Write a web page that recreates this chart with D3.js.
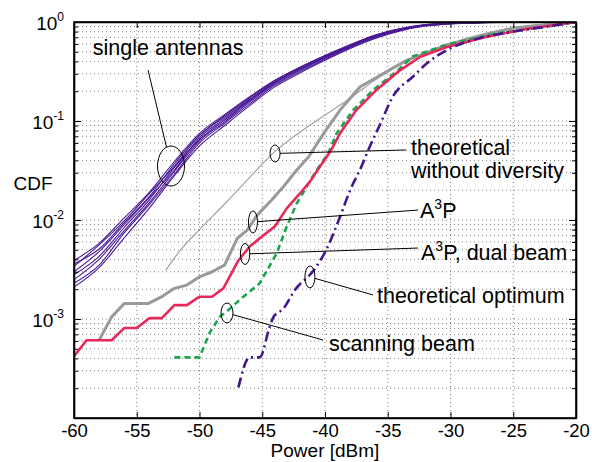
<!DOCTYPE html>
<html>
<head>
<meta charset="utf-8">
<script src="https://cdn.jsdelivr.net/npm/d3@7"></script>
<style>
  body { margin: 0; background: #fff; }
  svg { font-family: "Liberation Sans", Arial, sans-serif; }
  .grid line { stroke: #808080; stroke-width: 1; stroke-dasharray: 1,3; }
  .axis path, .axis line { stroke: #000; }
  .axis path { stroke-width: 1.6; }
  .annot { fill: none; stroke: #000; stroke-width: 1; }
  .label { font-size: 21.5px; fill: #000; }
</style>
</head>
<body>
<div id="wrapper"></div>
<script>
// ---- data --------------------------------------------------------------
const xTickValues = [-60, -55, -50, -45, -40, -35, -30, -25, -20]
const yMajorValues = [1, 0.1, 0.01, 0.001]
const yMajorExponents = ["0", "-1", "-2", "-3"]

// eight measured single antenna CDFs
const singlePower = [-60, -58, -56, -54, -52, -50, -48, -46, -44, -42, -40, -38, -36, -34, -32, -30, -27, -24, -20]
const singleCdf = [
  [3.9e-3, 5.8e-3, 0.0105, 0.019, 0.039, 0.075, 0.116, 0.176, 0.258, 0.35, 0.46, 0.59, 0.74, 0.86, 0.94, 0.975, 0.993, 1, 1],
  [3.4e-3, 5.6e-3, 0.0098, 0.0185, 0.035, 0.071, 0.113, 0.172, 0.255, 0.347, 0.455, 0.585, 0.735, 0.855, 0.935, 0.972, 0.992, 1, 1],
  [3.6e-3, 5.1e-3, 0.0094, 0.0172, 0.037, 0.072, 0.109, 0.167, 0.249, 0.34, 0.447, 0.578, 0.725, 0.848, 0.932, 0.97, 0.991, 1, 1],
  [3.0e-3, 4.8e-3, 0.0090, 0.0168, 0.032, 0.068, 0.105, 0.163, 0.245, 0.336, 0.442, 0.572, 0.718, 0.843, 0.93, 0.97, 0.99, 1, 1],
  [2.8e-3, 4.3e-3, 0.0084, 0.0160, 0.034, 0.065, 0.102, 0.16, 0.242, 0.333, 0.438, 0.567, 0.712, 0.838, 0.927, 0.968, 0.99, 1, 1],
  [2.5e-3, 4.0e-3, 0.0078, 0.0150, 0.031, 0.063, 0.098, 0.155, 0.236, 0.326, 0.431, 0.561, 0.705, 0.832, 0.922, 0.965, 0.989, 1, 1],
  [2.3e-3, 3.5e-3, 0.0074, 0.0143, 0.029, 0.060, 0.095, 0.149, 0.229, 0.316, 0.421, 0.551, 0.693, 0.822, 0.916, 0.961, 0.987, 1, 1],
  [2.1e-3, 3.3e-3, 0.0066, 0.0132, 0.028, 0.056, 0.090, 0.143, 0.221, 0.306, 0.41, 0.54, 0.682, 0.812, 0.91, 0.956, 0.985, 1, 1],
]

const theoNoDivPower = [-52.7, -51.5, -50, -48, -46, -44, -42, -40, -38, -36, -34, -32, -30, -27, -24, -20]
const theoNoDivCdf = [3.1e-3, 5.0e-3, 8.0e-3, 0.0145, 0.027, 0.049, 0.077, 0.115, 0.17, 0.26, 0.37, 0.49, 0.61, 0.78, 0.91, 1.0]

const a3pPower = [-58, -57, -56, -54.1, -53, -52, -51, -50, -49, -48, -47, -46.2, -45.4, -44.25, -43.3, -42.25, -41.3, -40.1, -38.8, -37.2, -35.6, -33.5, -30.3, -25, -20]
const a3pCdf = [6.1e-4, 1.05e-3, 1.43e-3, 1.43e-3, 1.68e-3, 2.04e-3, 2.2e-3, 2.67e-3, 3.0e-3, 3.5e-3, 6.5e-3, 7.9e-3, 0.0112, 0.0159, 0.0218, 0.032, 0.0436, 0.075, 0.129, 0.222, 0.29, 0.41, 0.586, 0.87, 1.0]

const dualPower = [-60, -59, -57, -56, -55, -54, -53, -52, -51, -50, -49, -48.1, -46.9, -46, -44.9, -44, -43.05, -42.1, -41.2, -40.4, -39.5, -38.8, -37.5, -35.9, -34, -32.4, -30.3, -27.1, -23.7, -20]
const dualCdf = [4.2e-4, 6.1e-4, 6.1e-4, 8.1e-4, 8.1e-4, 1.02e-3, 1.02e-3, 1.38e-3, 1.38e-3, 1.68e-3, 1.68e-3, 2.04e-3, 3.9e-3, 5.4e-3, 7.0e-3, 8.6e-3, 0.0131, 0.0179, 0.0244, 0.0346, 0.051, 0.075, 0.129, 0.206, 0.327, 0.446, 0.56, 0.71, 0.86, 1.0]

const scanPower = [-52, -50, -49.2, -48.4, -47.7, -46.8, -45.2, -43.85, -43.05, -42.25, -41.46, -40.66, -39.74, -39.07, -37.75, -36.15, -34.16, -33, -30.3, -26.3, -22.3, -20]
const scanCdf = [4.1e-4, 4.1e-4, 7.2e-4, 1.05e-3, 1.23e-3, 1.56e-3, 2.3e-3, 4.6e-3, 8.6e-3, 0.0147, 0.0217, 0.032, 0.047, 0.075, 0.129, 0.206, 0.327, 0.45, 0.59, 0.77, 0.90, 1.0]

const optPower = [-46.9, -46.0, -45.2, -44.4, -44.1, -43.3, -42.4, -40.9, -39.9, -38.8, -38.0, -37.1, -36.55, -35.6, -34.6, -33.0, -31.9, -30.3, -28.2, -25.0, -22.3, -20.0]
const optCdf = [2.04e-4, 4.1e-4, 4.1e-4, 8.4e-4, 1.05e-3, 1.28e-3, 1.96e-3, 3.1e-3, 5.0e-3, 0.0108, 0.020, 0.0346, 0.051, 0.093, 0.176, 0.28, 0.38, 0.52, 0.66, 0.80, 0.90, 1.0]

// annotations: ellipse centre, leader end, text anchor (all in data units)
const annotations = [
  { cx: -52.27, cy: 0.0351, rx: 13.5, ry: 20, tx: -54.1, ty: 0.327, lx: -58.5, ly: 0.464, lines: ["single antennas"] },
  { cx: -43.98, cy: 0.047, rx: 5, ry: 8.5, tx: -33.55, ty: 0.051, lx: -33.15, ly: 0.0455, lines: ["theoretical", "without diversity"] },
  { cx: -45.74, cy: 9.55e-3, rx: 4.5, ry: 11, tx: -32.59, ty: 0.0126, lx: -32.43, ly: 0.0105, lines: ["A³P"] },
  { cx: -46.37, cy: 4.54e-3, rx: 4.7, ry: 10.5, tx: -32.59, ty: 5.21e-3, lx: -32.35, ly: 3.94e-3, lines: ["A³P, dual beam"] },
  { cx: -41.2, cy: 2.66e-3, rx: 5, ry: 11, tx: -36.18, ty: 1.75e-3, lx: -35.86, ly: 1.45e-3, lines: ["theoretical optimum"] },
  { cx: -47.81, cy: 1.15e-3, rx: 6, ry: 10, tx: -40.16, ty: 6.14e-4, lx: -39.68, ly: 4.75e-4, lines: ["scanning beam"] },
]

function drawChart() {

  //..................................................
  // dimensions
  let dimensions = {
    width: 592,
    height: 462,
    margin: { top: 22, right: 16, bottom: 44, left: 74 },
  }
  dimensions.boundedWidth = dimensions.width - dimensions.margin.left - dimensions.margin.right
  dimensions.boundedHeight = dimensions.height - dimensions.margin.top - dimensions.margin.bottom

  //..................................................
  // canvas
  const wrapper = d3.select("#wrapper")
    .append("svg")
      .attr("width", dimensions.width)
      .attr("height", dimensions.height)

  const bounds = wrapper.append("g")
    .attr("transform", `translate(${dimensions.margin.left},${dimensions.margin.top})`)

  bounds.append("clipPath")
      .attr("id", "plot-clip")
    .append("rect")
      .attr("width", dimensions.boundedWidth)
      .attr("height", dimensions.boundedHeight)

  //..................................................
  // scales
  const xScale = d3.scaleLinear()
    .domain([-60, -20])
    .range([0, dimensions.boundedWidth])

  const yScale = d3.scaleLog()
    .domain([1e-4, 1])
    .range([dimensions.boundedHeight, 0])

  const yAllTicks = yScale.ticks()
  const yMinorTicks = yAllTicks.filter(d => !yMajorValues.includes(d) && d > 1e-4)

  //..................................................
  // grid
  const grid = bounds.append("g").attr("class", "grid")
  grid.selectAll(".gx")
    .data(xTickValues.slice(1, -1))
    .join("line")
      .attr("x1", d => xScale(d))
      .attr("x2", d => xScale(d))
      .attr("y1", 0)
      .attr("y2", dimensions.boundedHeight)
  grid.selectAll(".gy")
    .data(yAllTicks.filter(d => d > 1e-4 && d < 1))
    .join("line")
      .attr("x1", 0)
      .attr("x2", dimensions.boundedWidth)
      .attr("y1", d => yScale(d))
      .attr("y2", d => yScale(d))

  //..................................................
  // draw data
  const lineFor = (curve) => d3.line()
    .x(d => xScale(d[0]))
    .y(d => yScale(d[1]))
    .curve(curve)

  const zip = (xs, ys) => xs.map((x, i) => [x, ys[i]])
  const plot = bounds.append("g").attr("clip-path", "url(#plot-clip)")

  plot.selectAll(".single")
    .data(singleCdf)
    .join("path")
      .attr("class", "single")
      .attr("fill", "none")
      .attr("stroke", "#4a1a96")
      .attr("stroke-width", 1.1)
      .attr("d", d => lineFor(d3.curveMonotoneX)(zip(singlePower, d)))

  plot.append("path")
      .attr("fill", "none")
      .attr("stroke", "#a3a3a3")
      .attr("stroke-width", 1.2)
      .attr("d", lineFor(d3.curveMonotoneX)(zip(theoNoDivPower, theoNoDivCdf)))

  plot.append("path")
      .attr("fill", "none")
      .attr("stroke", "#9a9a9a")
      .attr("stroke-width", 3)
      .attr("stroke-linejoin", "round")
      .attr("d", lineFor(d3.curveLinear)(zip(a3pPower, a3pCdf)))

  plot.append("path")
      .attr("fill", "none")
      .attr("stroke", "#17a64a")
      .attr("stroke-width", 2.6)
      .attr("stroke-dasharray", "6,4")
      .attr("d", lineFor(d3.curveLinear)(zip(scanPower, scanCdf)))

  plot.append("path")
      .attr("fill", "none")
      .attr("stroke", "#e8285a")
      .attr("stroke-width", 2.6)
      .attr("stroke-linejoin", "round")
      .attr("d", lineFor(d3.curveLinear)(zip(dualPower, dualCdf)))

  plot.append("path")
      .attr("fill", "none")
      .attr("stroke", "#45178f")
      .attr("stroke-width", 2.6)
      .attr("stroke-dasharray", "10,4,2,4")
      .attr("d", lineFor(d3.curveMonotoneX)(zip(optPower, optCdf)))

  //..................................................
  // peripherals
  const xAxis = bounds.append("g")
      .attr("class", "axis")
      .attr("transform", `translate(0,${dimensions.boundedHeight})`)
    .call(d3.axisBottom(xScale).tickValues(xTickValues).tickSizeInner(-6).tickSizeOuter(0).tickPadding(6).tickFormat(d => String(d)))
  xAxis.selectAll("text").attr("font-size", 18.5).attr("fill", "#000")

  bounds.append("g")
      .attr("class", "axis")
    .call(d3.axisTop(xScale).tickValues(xTickValues).tickSizeInner(-6).tickSizeOuter(0).tickFormat(""))

  const yAxis = bounds.append("g")
      .attr("class", "axis")
    .call(d3.axisLeft(yScale).tickValues(yMajorValues).tickSizeInner(-7).tickSizeOuter(0).tickFormat(""))
  bounds.append("g")
      .attr("class", "axis")
    .call(d3.axisLeft(yScale).tickValues(yMinorTicks).tickSizeInner(-4).tickSizeOuter(0).tickFormat(""))
    .select(".domain").remove()

  bounds.append("g")
      .attr("class", "axis")
      .attr("transform", `translate(${dimensions.boundedWidth},0)`)
    .call(d3.axisRight(yScale).tickValues(yMajorValues).tickSizeInner(-7).tickSizeOuter(0).tickFormat(""))
  bounds.append("g")
      .attr("class", "axis")
      .attr("transform", `translate(${dimensions.boundedWidth},0)`)
    .call(d3.axisRight(yScale).tickValues(yMinorTicks).tickSizeInner(-4).tickSizeOuter(0).tickFormat(""))
    .select(".domain").remove()

  const yLabels = yAxis.selectAll(".ylab")
    .data(yMajorValues)
    .join("text")
      .attr("class", "ylab")
      .attr("x", -10)
      .attr("y", d => yScale(d) + 7.5)
      .attr("text-anchor", "end")
      .attr("fill", "#000")
  yLabels.append("tspan")
      .attr("font-size", 19)
      .text("10")
  yLabels.append("tspan")
      .attr("font-size", 12)
      .attr("dy", -9)
      .text((d, i) => yMajorExponents[i])

  wrapper.append("text")
      .attr("x", 33)
      .attr("y", 190)
      .attr("text-anchor", "middle")
      .attr("font-size", 19)
      .text("CDF")

  wrapper.append("text")
      .attr("x", dimensions.margin.left + dimensions.boundedWidth / 2)
      .attr("y", 457)
      .attr("text-anchor", "middle")
      .attr("font-size", 19)
      .text("Power [dBm]")

  //..................................................
  // annotations
  annotations.forEach(a => {
    const cx = xScale(a.cx), cy = yScale(a.cy)
    const tx = xScale(a.tx), ty = yScale(a.ty)
    // start the leader on the ellipse outline
    const dx = tx - cx, dy = ty - cy
    const t = 1 / Math.sqrt((dx / a.rx) ** 2 + (dy / a.ry) ** 2)
    bounds.append("ellipse")
        .attr("class", "annot")
        .attr("cx", cx).attr("cy", cy)
        .attr("rx", a.rx).attr("ry", a.ry)
    bounds.append("line")
        .attr("class", "annot")
        .attr("x1", cx + dx * t).attr("y1", cy + dy * t)
        .attr("x2", tx).attr("y2", ty)

    const label = bounds.append("text")
        .attr("class", "label")
        .attr("x", xScale(a.lx))
        .attr("y", yScale(a.ly))
    a.lines.forEach((line, i) => {
      const parts = line.split("³")
      if (parts.length > 1) {
        label.append("tspan").attr("x", xScale(a.lx)).attr("dy", i ? 23 : 0).text(parts[0])
        label.append("tspan").attr("font-size", 14).attr("dy", -9).text("3")
        label.append("tspan").attr("dy", 9).text(parts[1])
      } else {
        label.append("tspan").attr("x", xScale(a.lx)).attr("dy", i ? 23 : 0).text(line)
      }
    })
  })

  // frame on top
  bounds.append("rect")
      .attr("width", dimensions.boundedWidth)
      .attr("height", dimensions.boundedHeight)
      .attr("fill", "none")
      .attr("stroke", "#000")
      .attr("stroke-width", 1.6)
}
drawChart()
</script>
</body>
</html>
